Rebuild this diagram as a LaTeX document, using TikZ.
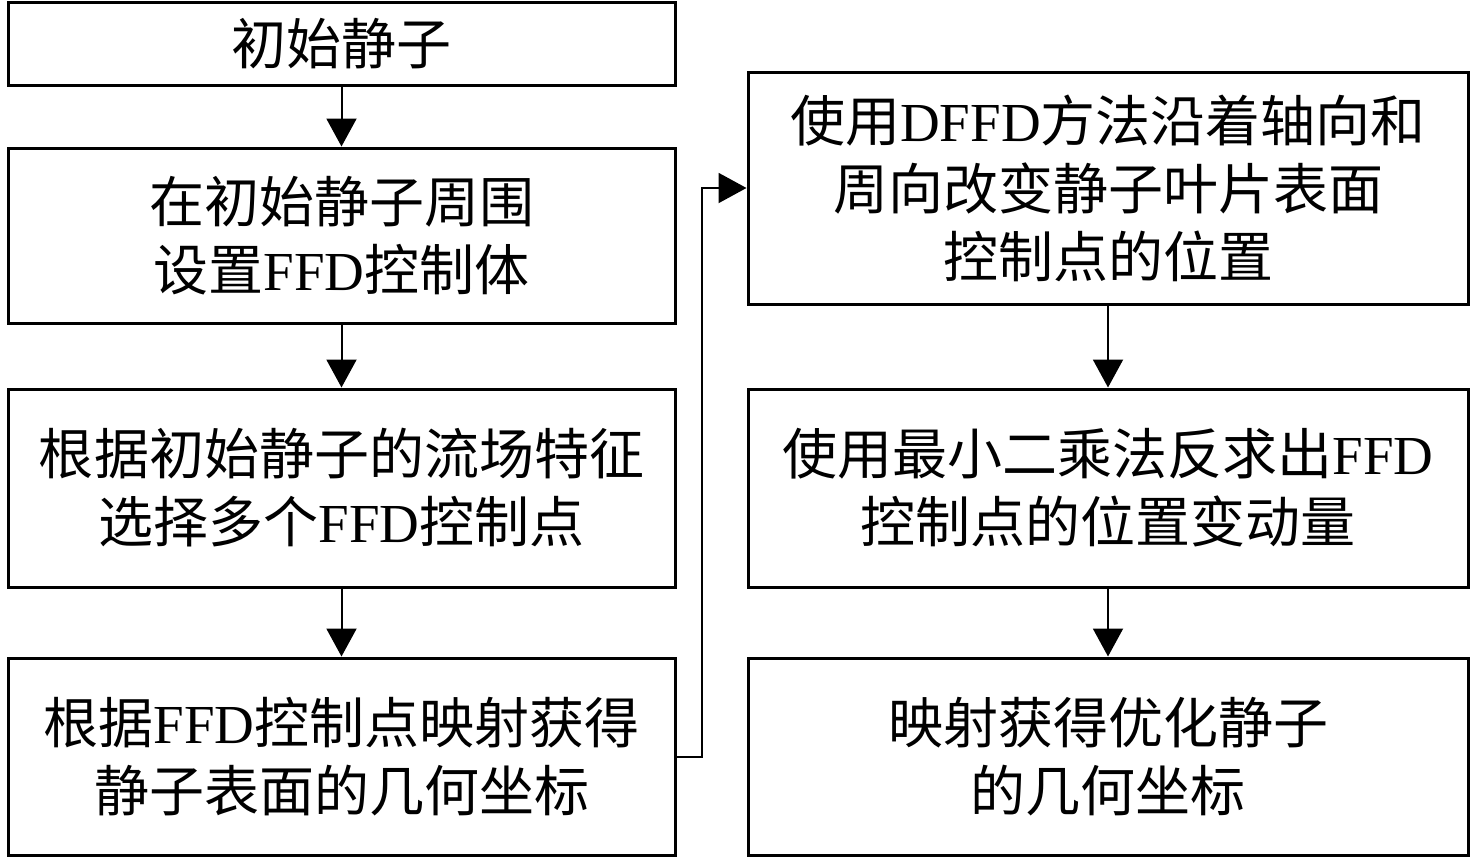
\documentclass[tikz,border=0pt]{standalone}
\usepackage{fontspec}
\setmainfont{Noto Sans CJK SC}
\newfontfamily\latin{Liberation Serif}
\newcommand{\lat}[1]{{\latin #1}}
\usetikzlibrary{arrows.meta}
\tikzset{
  stepbox/.style={draw,line width=1.5pt,inner sep=0pt,align=center,
    font=\fontsize{27.5pt}{34pt}\selectfont},
  leftbox/.style={stepbox,minimum width=333.5pt},
  rightbox/.style={stepbox,minimum width=360pt},
  flow/.style={line width=1pt,-{Triangle[length=14pt,width=15pt]}}
}
\begin{document}
\begin{tikzpicture}[x=0.5pt,y=-0.5pt]
	\useasboundingbox (0,0) rectangle (1476,858);
	% left column
	\node[leftbox,minimum height=41.5pt] (b1) at (341.5,43.5) {初始静子};
	\node[leftbox,minimum height=87.5pt] (b2) at (341.5,235.5) {在初始静子周围\\设置\lat{FFD}控制体};
	\node[leftbox,minimum height=99pt] (b3) at (341.5,488) {根据初始静子的流场特征\\选择多个\lat{FFD}控制点};
	\node[leftbox,minimum height=98.5pt] (b4) at (341.5,756.5) {根据\lat{FFD}控制点映射获得\\静子表面的几何坐标};
	% right column
	\node[rightbox,minimum height=116pt] (b5) at (1108,188) {使用\lat{DFFD}方法沿着轴向和\\周向改变静子叶片表面\\控制点的位置};
	\node[rightbox,minimum height=99pt] (b6) at (1108,488) {使用最小二乘法反求出\lat{FFD}\\控制点的位置变动量};
	\node[rightbox,minimum height=98.5pt] (b7) at (1108,756.5) {映射获得优化静子\\的几何坐标};
	% arrows
	\draw[flow] (b1) -- (b2);
	\draw[flow] (b2) -- (b3);
	\draw[flow] (b3) -- (b4);
	\draw[flow] (b4.east) -- ++(25,0) |- (b5.west);
	\draw[flow] (b5) -- (b6);
	\draw[flow] (b6) -- (b7);
\end{tikzpicture}
\end{document}
